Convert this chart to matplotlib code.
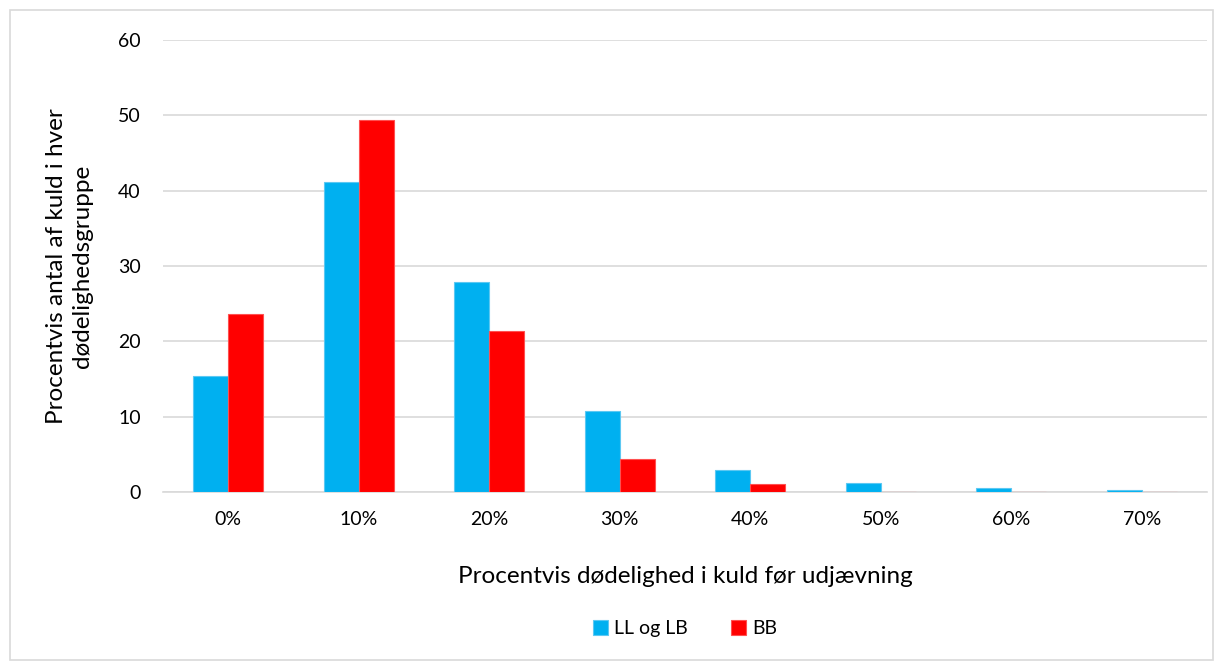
import numpy as np
import matplotlib.pyplot as plt
from matplotlib.patches import Rectangle

plt.rcParams['font.family'] = ['Lato', 'DejaVu Sans']

# Mortality groups and share of litters per group
groups = ['0%', '10%', '20%', '30%', '40%', '50%', '60%', '70%']
ll_lb = [15.4, 41.1, 27.9, 10.8, 2.85, 1.15, 0.57, 0.22]
bb = [23.6, 49.4, 21.3, 4.4, 1.06, 0, 0, 0]

fig = plt.figure(figsize=(12.23, 6.65), dpi=100)
ax = fig.add_axes([0.1333, 0.2602, 0.8537, 0.6798])

x = np.arange(len(groups))
w = 0.268
ax.bar(x - w / 2, ll_lb, w, color='#00B0F0', edgecolor='#5CC8F2', linewidth=0.8,
       label='LL og LB', zorder=3)
ax.bar(x + w / 2, bb, w, color='#FF0000', edgecolor='#FF5050', linewidth=0.8,
       label='BB', zorder=3)

ax.set_xlim(-0.5, len(groups) - 0.5)
ax.set_ylim(0, 60)
ax.set_yticks(range(0, 61, 10))
ax.set_xticks(x)
ax.set_xticklabels(groups)
ax.yaxis.grid(True, color='#D9D9D9', linewidth=1.2, zorder=0)
for s in ['top', 'right', 'left']:
    ax.spines[s].set_visible(False)
ax.spines['bottom'].set_color('#D9D9D9')
ax.spines['bottom'].set_linewidth(1.2)
ax.tick_params(axis='both', length=0, labelsize=14, colors='#000000')
ax.tick_params(axis='y', pad=16)
ax.tick_params(axis='x', pad=14)

ax.set_xlabel('Procentvis dødelighed i kuld før udjævning', fontsize=17.5, labelpad=27)
ax.set_ylabel('Procentvis antal af kuld i hver\ndødelighedsgruppe', fontsize=17.5,
              labelpad=18, linespacing=1.3)

ax.legend(loc='upper center', bbox_to_anchor=(0.5, -0.245), ncol=2, frameon=False,
          fontsize=14, handlelength=0.8, handleheight=0.8, columnspacing=2.2,
          handletextpad=0.3)

fig.patches.append(Rectangle((0.008, 0.008), 0.984, 0.977, transform=fig.transFigure,
                             fill=False, edgecolor='#D9D9D9', linewidth=1.2))

fig.savefig('out.png', dpi=100, facecolor='white')
